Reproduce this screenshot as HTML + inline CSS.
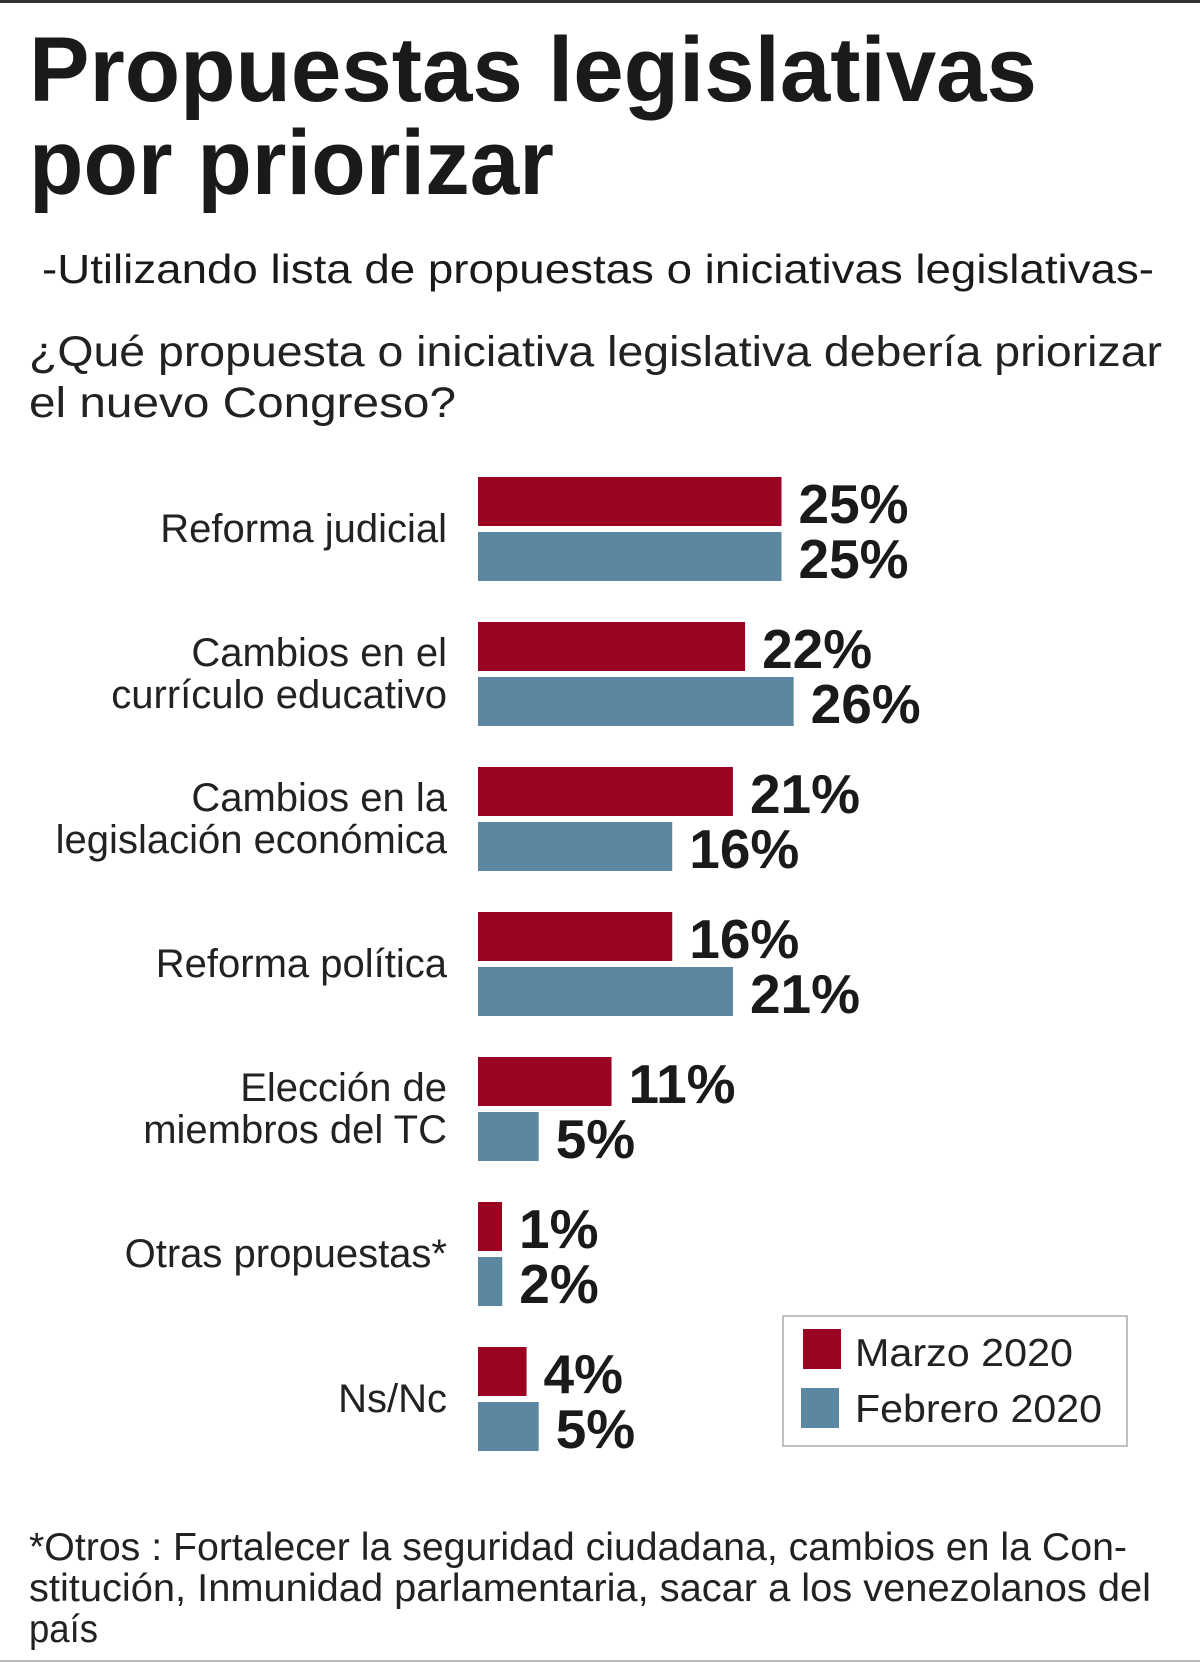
<!DOCTYPE html>
<html><head><meta charset="utf-8"><style>
html,body{margin:0;padding:0;background:#fff;}
svg{display:block;font-family:"Liberation Sans",sans-serif;}
</style></head><body>
<svg id="chart" width="1200" height="1663" viewBox="0 0 1200 1663" xmlns="http://www.w3.org/2000/svg">
<rect x="0" y="0" width="1200" height="3" fill="#333"/>
<text x="29" y="101" font-size="92" font-weight="bold" fill="#1a1a1a" textLength="1008" lengthAdjust="spacingAndGlyphs">Propuestas legislativas</text>
<text x="29" y="194" font-size="92" font-weight="bold" fill="#1a1a1a" textLength="525" lengthAdjust="spacingAndGlyphs">por priorizar</text>
<text x="42" y="283" font-size="41" fill="#1a1a1a" textLength="1112" lengthAdjust="spacingAndGlyphs">-Utilizando lista de propuestas o iniciativas legislativas-</text>
<text x="29" y="366" font-size="43" fill="#222" textLength="1133" lengthAdjust="spacingAndGlyphs">¿Qué propuesta o iniciativa legislativa debería priorizar</text>
<text x="29" y="417" font-size="43" fill="#222" textLength="427" lengthAdjust="spacingAndGlyphs">el nuevo Congreso?</text>
<g id="bars"></g>
<g>
<rect x="783" y="1316" width="344" height="130" fill="#fff" stroke="#aaa" stroke-width="1.5"/>
<rect x="803" y="1329" width="38" height="40" fill="#9b0322"/>
<text x="855" y="1366" font-size="39" fill="#222" textLength="218" lengthAdjust="spacingAndGlyphs">Marzo 2020</text>
<rect x="801" y="1388" width="38" height="40" fill="#5b87a0"/>
<text x="855" y="1422" font-size="39" fill="#222" textLength="247" lengthAdjust="spacingAndGlyphs">Febrero 2020</text>
</g>
<text x="29" y="1560" font-size="39" fill="#222" textLength="1098" lengthAdjust="spacingAndGlyphs">*Otros : Fortalecer la seguridad ciudadana, cambios en la Con-</text>
<text x="29" y="1601" font-size="39" fill="#222" textLength="1122" lengthAdjust="spacingAndGlyphs">stitución, Inmunidad parlamentaria, sacar a los venezolanos del</text>
<text x="29" y="1642" font-size="39" fill="#222" textLength="69" lengthAdjust="spacingAndGlyphs">país</text>
<rect x="0" y="1660" width="1200" height="2" fill="#bbb"/>
</svg>
<script>
const categories = [["Reforma judicial"],["Cambios en el","currículo educativo"],["Cambios en la","legislación económica"],["Reforma política"],["Elección de","miembros del TC"],["Otras propuestas*"],["Ns/Nc"]];
const marzoValues = [25,22,21,16,11,1,4];
const febreroValues = [25,26,16,21,5,2,5];

const NS="http://www.w3.org/2000/svg";
const g=document.getElementById('bars');
const x0=478, pxPer=12.14, top0=477, groupStep=145, barH=49, gap=6;
function xScale(v){return v*pxPer;}
function yGroup(i){return top0+i*groupStep;}
function mk(tag,attrs){const e=document.createElementNS(NS,tag);for(const k in attrs)e.setAttribute(k,attrs[k]);return e;}
categories.forEach((lines,i)=>{
  const y=yGroup(i);
  [[marzoValues,'#9b0322','marzo'],[febreroValues,'#5b87a0','febrero']].forEach((s,j)=>{
    const v=s[0][i];
    const by=y+j*(barH+gap);
    const w=Math.max(xScale(v),24);
    const r=mk('rect',{x:x0,y:by,width:w,height:barH,fill:s[1]});
    
    
    g.appendChild(r);
    const t=mk('text',{x:x0+w+17,y:by+barH-3,'font-size':55,'font-weight':'bold',fill:'#1a1a1a'});
    
    
    t.textContent=v+'%';
    g.appendChild(t);
  });
  const c=y+barH+gap/2;
  lines.forEach((ln,k)=>{
    const ly=lines.length===1?c+13:c+13+(k===0?-21:21);
    const t=mk('text',{x:447,y:ly,'font-size':40,fill:'#222','text-anchor':'end'});
    
    
    t.textContent=ln;
    g.appendChild(t);
  });
});
</script>
</body></html>
